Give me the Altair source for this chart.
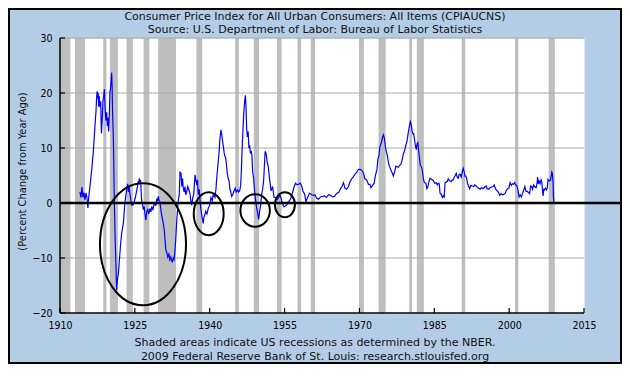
import altair as alt
import pandas as pd

# ---------------- data ----------------
years = [
    1914.0, 1914.2, 1914.4, 1914.6, 1914.8, 1915.0, 1915.2, 1915.4, 1915.6, 1915.8,
    1916.0, 1916.35, 1916.7, 1917.0, 1917.2, 1917.35, 1917.45, 1917.55, 1917.65, 1917.75,
    1917.85, 1918.0, 1918.15, 1918.3, 1918.45, 1918.6, 1918.75, 1918.9, 1919.05, 1919.2,
    1919.35, 1919.5, 1919.6, 1919.75, 1919.9, 1920.0, 1920.15, 1920.25, 1920.35, 1920.45,
    1920.55, 1920.7, 1920.9, 1921.05, 1921.2, 1921.35, 1921.5, 1921.7, 1921.9, 1922.1,
    1922.35, 1922.7, 1923.0, 1923.35, 1923.55, 1923.7, 1923.85, 1924.0, 1924.2, 1924.4,
    1924.6, 1924.8, 1925.1, 1925.4, 1925.7, 1925.8, 1925.9, 1926.0, 1926.15, 1926.35,
    1926.5, 1926.7, 1926.85, 1927.0, 1927.2, 1927.4, 1927.6, 1927.8, 1928.0, 1928.2,
    1928.4, 1928.6, 1928.8, 1929.0, 1929.2, 1929.4, 1929.55, 1929.7, 1929.85, 1930.0,
    1930.3, 1930.6, 1930.9, 1931.2, 1931.4, 1931.6, 1931.8, 1932.0, 1932.2, 1932.35,
    1932.5, 1932.7, 1932.85, 1933.0, 1933.2, 1933.4, 1933.7, 1933.9, 1934.05, 1934.25,
    1934.4, 1934.55, 1934.7, 1934.9, 1935.05, 1935.2, 1935.4, 1935.6, 1935.8, 1936.05,
    1936.2, 1936.4, 1936.6, 1936.8, 1937.05, 1937.25, 1937.4, 1937.55, 1937.7, 1937.9,
    1938.05, 1938.2, 1938.45, 1938.7, 1938.85, 1939.0, 1939.2, 1939.45, 1939.7, 1940.0,
    1940.25, 1940.5, 1940.7, 1941.05, 1941.25, 1941.4, 1941.55, 1941.7, 1941.9, 1942.05,
    1942.15, 1942.25, 1942.4, 1942.5, 1942.7, 1942.9, 1943.05, 1943.2, 1943.35, 1943.5,
    1943.7, 1943.9, 1944.05, 1944.2, 1944.4, 1944.6, 1944.8, 1945.1, 1945.3, 1945.6,
    1945.8, 1946.0, 1946.2, 1946.35, 1946.5, 1946.65, 1946.8, 1947.0, 1947.15, 1947.25,
    1947.4, 1947.55, 1947.7, 1947.85, 1948.0, 1948.15, 1948.3, 1948.45, 1948.6, 1948.8,
    1949.0, 1949.2, 1949.4, 1949.6, 1949.8, 1950.0, 1950.2, 1950.4, 1950.6, 1950.8,
    1951.0, 1951.1, 1951.3, 1951.5, 1951.75, 1952.0, 1952.3, 1952.6, 1952.9, 1953.2,
    1953.5, 1953.8, 1954.1, 1954.4, 1954.7, 1954.9, 1955.2, 1955.5, 1955.8, 1956.0,
    1956.3, 1956.6, 1956.9, 1957.2, 1957.5, 1957.8, 1958.1, 1958.4, 1958.7, 1959.0,
    1959.3, 1959.6, 1960.0, 1960.4, 1960.8, 1961.1, 1961.4, 1961.8, 1962.2, 1962.6,
    1963.0, 1963.4, 1963.8, 1964.2, 1964.6, 1965.0, 1965.3, 1965.6, 1965.9, 1966.2,
    1966.5, 1966.8, 1967.1, 1967.4, 1967.8, 1968.1, 1968.45, 1968.8, 1969.1, 1969.4,
    1969.8, 1970.1, 1970.4, 1970.8, 1971.1, 1971.45, 1971.8, 1972.1, 1972.3, 1972.7,
    1972.95, 1973.2, 1973.5, 1973.7, 1973.9, 1974.1, 1974.4, 1974.65, 1974.8, 1975.0,
    1975.2, 1975.4, 1975.6, 1975.8, 1976.0, 1976.3, 1976.6, 1976.8, 1977.1, 1977.3,
    1977.55, 1977.8, 1978.0, 1978.3, 1978.55, 1978.8, 1979.0, 1979.3, 1979.55, 1979.8,
    1980.0, 1980.2, 1980.35, 1980.55, 1980.7, 1980.85, 1981.0, 1981.2, 1981.4, 1981.55,
    1981.7, 1981.85, 1982.0, 1982.2, 1982.4, 1982.6, 1982.8, 1983.0, 1983.3, 1983.5,
    1983.7, 1983.9, 1984.15, 1984.4, 1984.6, 1984.8, 1985.1, 1985.4, 1985.6, 1985.8,
    1986.0, 1986.15, 1986.4, 1986.6, 1986.8, 1987.0, 1987.15, 1987.4, 1987.6, 1987.8,
    1988.1, 1988.4, 1988.6, 1988.8, 1989.0, 1989.2, 1989.4, 1989.6, 1989.8, 1990.0,
    1990.2, 1990.4, 1990.6, 1990.8, 1991.0, 1991.15, 1991.3, 1991.5, 1991.7, 1991.9,
    1992.1, 1992.3, 1992.6, 1992.9, 1993.1, 1993.4, 1993.7, 1993.9, 1994.2, 1994.5,
    1994.8, 1995.1, 1995.4, 1995.6, 1995.9, 1996.2, 1996.5, 1996.8, 1997.0, 1997.3,
    1997.6, 1997.9, 1998.1, 1998.4, 1998.7, 1998.95, 1999.2, 1999.4, 1999.7, 1999.95,
    2000.2, 2000.45, 2000.7, 2000.9, 2001.1, 2001.3, 2001.5, 2001.7, 2001.9, 2002.0,
    2002.2, 2002.45, 2002.7, 2002.95, 2003.15, 2003.4, 2003.6, 2003.9, 2004.1, 2004.3,
    2004.5, 2004.7, 2004.9, 2005.1, 2005.4, 2005.6, 2005.7, 2005.85, 2006.0, 2006.2,
    2006.4, 2006.55, 2006.7, 2006.8, 2006.95, 2007.1, 2007.3, 2007.5, 2007.65, 2007.8,
    2007.95, 2008.1, 2008.3, 2008.45, 2008.55, 2008.65, 2008.8, 2008.88, 2008.95,
]
values = [
    2.0, 1.0, 2.9, 1.0, 1.9, 0.5, 1.8, 1.0, -0.9, 1.5,
    3.0, 6.0, 9.6, 13.9, 16.5, 19.3, 20.3, 19.0, 20.0, 17.5,
    19.5, 17.5, 18.5, 12.7, 15.0, 18.5, 19.5, 20.7, 17.0, 15.0,
    16.5, 14.0, 15.5, 13.0, 16.5, 20.0, 21.0, 22.5, 23.7, 21.0,
    16.0, 11.5, 0.0, -6.5, -11.0, -15.8, -14.0, -12.8, -10.4, -8.0,
    -5.5, -3.7, 0.0, 2.4, 3.5, 2.0, 3.1, 1.8, 0.5, -0.4,
    -0.4, 0.0, 1.0, 2.4, 4.0, 3.5, 4.5, 3.9, 4.0, 0.6,
    0.0, -1.2, -0.6, -1.8, -3.1, -1.5, -1.2, -2.0, -1.0, -1.6,
    -0.6, -1.3, -0.4, 0.0, -0.5, 0.8, 0.3, 1.2, 0.5, 0.3,
    -1.8, -3.2, -4.9, -8.5, -9.0, -9.8, -9.3, -10.3, -9.8, -10.5,
    -10.7, -10.0, -10.3, -9.1, -6.5, -3.1, 0.5, 1.5, 5.6, 5.4,
    3.0, 4.5, 2.7, 2.0, 3.0, 1.5, 2.0, 3.0, 2.5, 1.7,
    0.5, -0.4, 1.0, 1.5, 5.1, 4.0, 3.3, 4.2, 1.5, 2.5,
    0.5, -0.9, -2.5, -3.7, -2.5, -2.2, -1.5, -2.0, -1.0, -0.4,
    1.0, 0.4, 1.5, 1.0, 2.5, 4.5, 6.0, 7.5, 9.5, 11.8,
    12.5, 13.3, 12.5, 11.8, 10.5, 9.1, 8.5, 8.2, 7.0, 5.5,
    4.5, 3.9, 2.5, 2.1, 1.2, 1.5, 2.0, 2.7, 2.0, 2.4,
    2.0, 2.2, 3.2, 6.0, 10.0, 13.0, 16.0, 18.5, 19.6, 18.0,
    13.6, 12.0, 13.0, 10.0, 10.5, 9.0, 9.5, 8.8, 5.7, 4.5,
    2.1, 0.5, -0.9, -1.8, -3.0, -1.5, -0.5, 1.5, 2.5, 4.0,
    7.5, 9.4, 9.0, 7.5, 6.5, 4.3, 2.2, 3.0, 1.0, 1.0,
    0.6, 1.0, 1.4, 0.5, -0.4, -0.7, -0.5, -0.3, 0.3, 0.4,
    1.0, 1.9, 2.9, 3.6, 3.3, 3.4, 3.6, 3.2, 2.1, 1.7,
    0.2, 1.0, 1.8, 1.5, 1.4, 1.5, 0.9, 0.7, 1.1, 1.2,
    1.3, 1.0, 1.5, 1.4, 1.1, 1.2, 1.6, 1.8, 2.0, 2.6,
    3.0, 3.7, 2.7, 2.5, 3.0, 3.8, 4.4, 4.8, 5.2, 5.5,
    6.1, 6.1, 6.0, 5.5, 4.4, 4.2, 3.4, 3.4, 2.8, 3.3,
    3.6, 5.0, 6.0, 8.0, 8.6, 10.2, 11.0, 12.0, 12.4, 11.8,
    10.2, 9.3, 8.6, 7.4, 6.7, 6.0, 5.4, 4.9, 5.8, 6.7,
    6.6, 6.5, 6.8, 7.0, 7.8, 8.9, 9.3, 10.5, 11.3, 12.9,
    13.9, 14.8, 14.4, 13.1, 12.6, 12.6, 11.8, 10.5, 9.7, 10.8,
    11.0, 9.6, 8.4, 6.8, 6.6, 6.0, 4.5, 3.7, 3.6, 2.6,
    2.9, 3.8, 4.5, 4.3, 4.2, 4.1, 3.6, 3.7, 3.3, 3.6,
    3.5, 1.8, 1.6, 1.0, 1.3, 1.1, 3.7, 3.8, 3.9, 4.4,
    4.0, 3.9, 4.2, 4.2, 4.7, 5.0, 5.4, 4.7, 4.5, 5.2,
    5.2, 4.7, 5.6, 6.3, 5.6, 4.9, 4.9, 4.4, 3.4, 3.0,
    2.6, 3.2, 3.1, 3.0, 3.3, 3.1, 2.8, 2.7, 2.5, 2.8,
    2.6, 2.9, 3.1, 2.6, 2.5, 2.8, 2.9, 3.0, 3.3, 2.5,
    2.2, 1.9, 1.4, 1.7, 1.5, 1.6, 1.7, 2.2, 2.6, 2.7,
    3.7, 3.2, 3.5, 3.4, 3.7, 3.3, 3.2, 2.6, 1.6, 1.1,
    1.5, 1.1, 1.8, 2.4, 3.0, 2.1, 2.1, 1.9, 1.7, 3.1,
    3.0, 2.5, 3.3, 3.0, 2.8, 3.6, 4.7, 3.5, 4.0, 3.5,
    4.2, 3.8, 2.1, 1.3, 2.5, 2.4, 2.7, 2.4, 2.8, 4.3,
    4.1, 4.0, 4.2, 5.0, 5.6, 5.4, 3.7, 1.1, 0.1,
]

# NBER recessions (decimal years)
rec_start = [1910.0, 1913.0, 1918.67, 1920.0, 1923.33, 1926.75, 1929.67, 1937.33,
             1945.1, 1948.83, 1953.5, 1957.58, 1960.25, 1969.92, 1973.83, 1980.0,
             1981.5, 1990.5, 2001.17, 2007.92]
rec_end = [1912.1, 1915.0, 1919.3, 1921.6, 1924.6, 1927.9, 1933.25, 1938.5,
           1945.85, 1949.9, 1954.4, 1958.33, 1961.1, 1970.9, 1975.25, 1980.55,
           1982.9, 1991.2, 2001.85, 2009.15]

# annotation ellipses: centre (year, value), half-width (years), half-height (pct)
ell_year = [1926.63, 1939.8, 1949.1, 1955.07]
ell_value = [-7.5, -1.95, -1.36, -0.33]
ell_rx = [8.62, 3.0, 2.95, 2.0]
ell_ry = [11.1, 3.9, 2.96, 2.27]

x_ticks = [1910, 1925, 1940, 1955, 1970, 1985, 2000, 2015]
y_ticks = [-20, -10, 0, 10, 20, 30]
grid_vals = [-10, 10, 20, 30]

title_lines = ["Consumer Price Index for All Urban Consumers: All Items (CPIAUCNS)",
               "Source: U.S. Department of Labor: Bureau of Labor Statistics"]
footer_lines = ["Shaded areas indicate US recessions as determined by the NBER.",
                "2009 Federal Reserve Bank of St. Louis: research.stlouisfed.org"]
y_title = "(Percent Change from Year Ago)"

# ---------------- chart ----------------
W, H = 524, 275
PL, PT, PR, PB = 52, 30, 38, 51
FONT = "DejaVu Sans Condensed, DejaVu Sans"
TFONT = "DejaVu Sans"
TEXTC = "#111111"
XMIN, XMAX, YMIN, YMAX = 1910, 2015, -20, 30

xs = alt.Scale(domain=[XMIN, XMAX], nice=False, zero=False)
ys = alt.Scale(domain=[YMIN, YMAX], nice=False, zero=False)

xaxis = alt.Axis(values=x_ticks, format="d", title=None, grid=False, domain=False,
                 ticks=False, tickSize=0, labelFont=FONT, labelFontSize=10.5,
                 labelColor="black", labelPadding=7, labelFlush=False)
yaxis = alt.Axis(values=y_ticks, title=y_title, grid=False, domain=False,
                 ticks=False, tickSize=0, labelFont=FONT, labelFontSize=10.5,
                 labelColor="black", labelPadding=8,
                 titleFont=FONT, titleFontSize=11, titleFontWeight="normal",
                 titleColor=TEXTC, titleX=-38, titleY=133, titleAngle=270,
                 titleAlign="center", titleBaseline="middle")

df = pd.DataFrame({"year": years, "cpi": values})
rec = pd.DataFrame({"start": rec_start, "end": rec_end})

bars = alt.Chart(rec).mark_rect(color="#BEBEBE").encode(
    x=alt.X("start:Q", scale=xs, axis=xaxis), x2="end:Q")

grid = alt.Chart(pd.DataFrame({"g": grid_vals})).mark_rule(
    color="#AAAAAA", strokeWidth=1).encode(
    y=alt.Y("g:Q", scale=ys, axis=yaxis))

one = pd.DataFrame({"a": [0]})
left_axis = alt.Chart(one).mark_rule(color="black", strokeWidth=1.5).encode(
    x=alt.value(0), y=alt.value(0), y2=alt.value(H))
bottom_axis = alt.Chart(one).mark_rule(color="black", strokeWidth=1.5).encode(
    y=alt.value(H), x=alt.value(0), x2=alt.value(W))

yt = alt.Chart(pd.DataFrame({"t": y_ticks})).mark_rule(color="black", strokeWidth=1.2).encode(
    y=alt.Y("t:Q", scale=ys, axis=yaxis), x=alt.value(0), x2=alt.value(5))
xt = alt.Chart(pd.DataFrame({"t": x_ticks})).mark_rule(color="black", strokeWidth=1.2).encode(
    x=alt.X("t:Q", scale=xs, axis=xaxis), y=alt.value(H), y2=alt.value(H - 5))

line = alt.Chart(df).mark_line(color="#0000FF", strokeWidth=1.2).encode(
    x=alt.X("year:Q", scale=xs, axis=xaxis),
    y=alt.Y("cpi:Q", scale=ys, axis=yaxis))

zero = alt.Chart(one).mark_rule(color="black", strokeWidth=2.5, clip=False).encode(
    y=alt.Y(datum=0, scale=ys, axis=yaxis), x=alt.value(0), x2=alt.value(W + PR))

px_year = W / (XMAX - XMIN)
px_unit = H / (YMAX - YMIN)


def ellipse_path(rx, ry):
    k = 0.5523
    return (f"M {-rx:.2f} 0 C {-rx:.2f} {-k*ry:.2f} {-k*rx:.2f} {-ry:.2f} 0 {-ry:.2f} "
            f"C {k*rx:.2f} {-ry:.2f} {rx:.2f} {-k*ry:.2f} {rx:.2f} 0 "
            f"C {rx:.2f} {k*ry:.2f} {k*rx:.2f} {ry:.2f} 0 {ry:.2f} "
            f"C {-k*rx:.2f} {ry:.2f} {-rx:.2f} {k*ry:.2f} {-rx:.2f} 0 Z")


ellipses = []
for ex, ey, erx, ery in zip(ell_year, ell_value, ell_rx, ell_ry):
    path = ellipse_path(erx * px_year, ery * px_unit)
    ellipses.append(
        alt.Chart(pd.DataFrame({"x": [ex], "y": [ey]})).mark_point(
            shape=path, size=4, filled=False, stroke="black", strokeWidth=2,
            opacity=1, clip=False).encode(
            x=alt.X("x:Q", scale=xs, axis=xaxis),
            y=alt.Y("y:Q", scale=ys, axis=yaxis)))

frame = alt.Chart(one).mark_rect(filled=False, stroke="black", strokeWidth=2,
                                 clip=False).encode(
    x=alt.value(-PL + 1), x2=alt.value(W + PR - 1),
    y=alt.value(-PT + 1), y2=alt.value(H + PB - 1))


def text_line(txt, ypos):
    return alt.Chart(one).mark_text(text=txt, font=TFONT, fontSize=11, color=TEXTC,
                                    align="center", baseline="middle", clip=False).encode(
        x=alt.value(W / 2 - 7), y=alt.value(ypos))


texts = [text_line(title_lines[0], -21), text_line(title_lines[1], -8),
         text_line(footer_lines[0], H + 30), text_line(footer_lines[1], H + 44)]

chart = alt.layer(bars, grid, line, zero, left_axis, bottom_axis, yt, xt,
                  *ellipses, *texts, frame).properties(
    width=W, height=H,
    autosize=alt.AutoSizeParams(type="none"),
    padding={"left": PL, "top": PT, "right": PR, "bottom": PB},
).configure(background="#B4CDE6").configure_view(fill="white", stroke="transparent")

chart.save("out.html", embed_options={"renderer": "svg", "actions": False})
